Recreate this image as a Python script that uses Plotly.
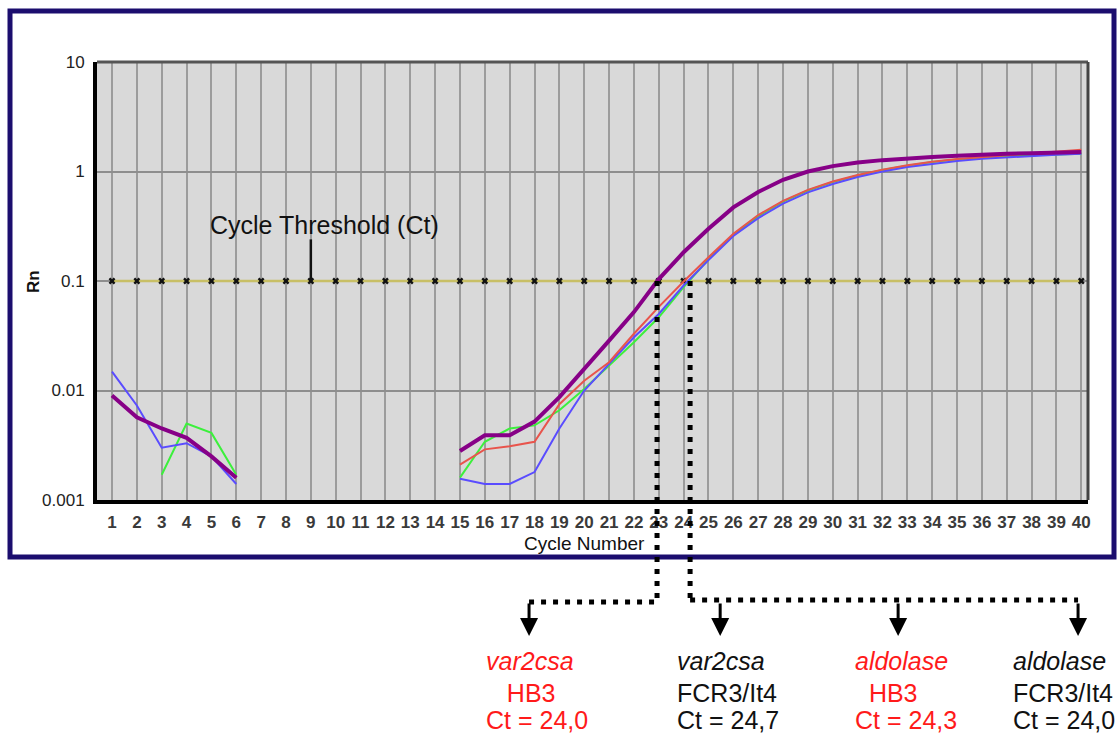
import math
import plotly.graph_objects as go

# ---------------- data ----------------
cycles = list(range(1, 41))
N = None

rn_purple = [0.0090, 0.0057, 0.0045, 0.0037, 0.0025, 0.0016, N, N, N, N, N, N, N, N,
             0.0028, 0.0039, 0.0039, 0.0052, 0.0087, 0.016, 0.0285, 0.052, 0.104, 0.183,
             0.30, 0.47, 0.65, 0.84, 1.0, 1.12, 1.21, 1.27, 1.32, 1.36,
             1.39, 1.43, 1.45, 1.47, 1.49, 1.51]
rn_red = [0.0089, 0.0057, 0.0045, 0.0037, 0.0025, 0.0016, N, N, N, N, N, N, N, N,
          0.0021, 0.0029, 0.0031, 0.0034, 0.0075, 0.0123, 0.0181, 0.033, 0.058, 0.099,
          0.165, 0.27, 0.40, 0.54, 0.68, 0.81, 0.93, 1.04, 1.14, 1.23,
          1.30, 1.36, 1.41, 1.46, 1.53, 1.58]
rn_green = [N, N, 0.0017, 0.0050, 0.0041, 0.0017, N, N, N, N, N, N, N, N,
            0.0016, 0.0034, 0.0045, 0.0048, 0.0066, 0.0103, 0.0169, 0.0276, 0.0466, 0.088,
            0.158, 0.265, 0.39, 0.53, 0.67, 0.80, 0.92, 1.03, 1.13, 1.22,
            1.29, 1.34, 1.38, 1.41, 1.43, 1.45]
rn_blue = [0.0149, 0.0073, 0.0030, 0.0033, 0.0025, 0.0014, N, N, N, N, N, N, N, N,
           0.00156, 0.0014, 0.0014, 0.0018, 0.0045, 0.0100, 0.0175, 0.0306, 0.050, 0.091,
           0.155, 0.258, 0.375, 0.51, 0.645, 0.77, 0.89, 1.0, 1.10, 1.18,
           1.25, 1.31, 1.35, 1.39, 1.42, 1.45]

threshold = 0.1
ct_cross_cycles = [22.93, 24.26]          # where the dotted drop lines leave the threshold
arrow_cycles = [17.78, 25.47, 32.63, 39.87]
pointer_cycle = 9
pointer_top = 0.24

y_tickvals = [0.001, 0.01, 0.1, 1, 10]
y_ticktext = ["0.001", "0.01", "0.1", "1", "10"]
x_ticktext = [str(c) for c in cycles]

result_genes = ["var2csa", "var2csa", "aldolase", "aldolase"]
result_strains = ["\u00a0\u00a0\u00a0HB3", "FCR3/It4", "\u00a0\u00a0HB3", "FCR3/It4"]
result_cts = ["Ct = 24,0", "Ct = 24,7", "Ct = 24,3", "Ct = 24,0"]
result_colors = ["#ff1a1a", "#111111", "#ff1a1a", "#111111"]

# ---------------- layout geometry ----------------
OFF = 0                      # page margin removed by the post script below
W, H = 1119, 735
PLOT_LEFT, PLOT_TOP, PLOT_RIGHT, PLOT_BOTTOM = 97, 62, 1088, 500   # window pixels
L = PLOT_LEFT - OFF
T = PLOT_TOP - OFF
R = W - (PLOT_RIGHT - OFF)
B = H - (PLOT_BOTTOM - OFF)
PW, PH = W - L - R, H - T - B
X_RANGE = [0.396, 40.27]
Y_RANGE = [-3, 1]
FONT = "Liberation Sans, Arial, sans-serif"


def pxx(px):
    return (px - PLOT_LEFT) / PW


def pxy(py):
    return (PLOT_BOTTOM - py) / PH


thr_paper = (math.log10(threshold) - Y_RANGE[0]) / (Y_RANGE[1] - Y_RANGE[0])

fig = go.Figure()

# threshold line with small markers
fig.add_trace(go.Scatter(
    x=cycles, y=[threshold] * len(cycles), mode="lines+markers",
    line=dict(color="#c8bf66", width=2.5),
    marker=dict(symbol="x", size=6, color="#111111", line=dict(width=0)),
    hoverinfo="skip", showlegend=False))

for vals, color, width in [(rn_green, "#3cf03c", 2),
                           (rn_blue, "#5a4cff", 2),
                           (rn_red, "#e8544c", 2),
                           (rn_purple, "#870087", 4)]:
    fig.add_trace(go.Scatter(x=cycles, y=vals, mode="lines",
                             line=dict(color=color, width=width),
                             connectgaps=False, hoverinfo="skip", showlegend=False))

shapes = []
# outer navy frame
shapes.append(dict(type="rect", xref="paper", yref="paper",
                   x0=pxx(10), x1=pxx(1114), y0=pxy(557), y1=pxy(11),
                   line=dict(color="#1b0d6e", width=5), layer="below"))
# top & right plot borders
shapes.append(dict(type="line", xref="paper", yref="paper", x0=0, x1=1, y0=1, y1=1,
                   line=dict(color="#555555", width=3)))
shapes.append(dict(type="line", xref="paper", yref="paper", x0=1, x1=1, y0=0, y1=1,
                   line=dict(color="#444444", width=3)))
# pointer for "Cycle Threshold (Ct)"
shapes.append(dict(type="line", xref="x", yref="y", x0=pointer_cycle, x1=pointer_cycle,
                   y0=threshold, y1=pointer_top, line=dict(color="#111111", width=2.5)))

dot = dict(color="#000000", width=5, dash="5px,7px")
row_y = [pxy(602), pxy(600)]
for c, yy in zip(ct_cross_cycles, row_y):
    shapes.append(dict(type="line", xref="x", yref="paper", x0=c, x1=c,
                       y0=thr_paper, y1=yy, line=dot))
shapes.append(dict(type="line", xref="x", yref="paper", x0=arrow_cycles[0],
                   x1=ct_cross_cycles[0], y0=row_y[0], y1=row_y[0], line=dot))
shapes.append(dict(type="line", xref="x", yref="paper", x0=ct_cross_cycles[1],
                   x1=arrow_cycles[-1], y0=row_y[1], y1=row_y[1], line=dot))

annotations = []
annotations.append(dict(text="Cycle Threshold (Ct)", xref="paper", yref="paper",
                        x=pxx(324), y=pxy(225), xanchor="center", yanchor="middle",
                        showarrow=False,
                        font=dict(family=FONT, size=25, color="#111111")))
annotations.append(dict(text="Cycle Number", xref="paper", yref="paper",
                        x=pxx(584), y=pxy(543), xanchor="center", yanchor="middle",
                        showarrow=False,
                        font=dict(family=FONT, size=19, color="#111111")))
annotations.append(dict(text="<b>Rn</b>", xref="paper", yref="paper",
                        x=pxx(33), y=pxy(282), xanchor="center", yanchor="middle",
                        showarrow=False, textangle=-90,
                        font=dict(family=FONT, size=17, color="#111111")))

for c in arrow_cycles:
    annotations.append(dict(text="", xref="x", yref="paper", x=c, y=pxy(636),
                            ax=0, ay=-34, axref="pixel", ayref="pixel",
                            showarrow=True, arrowhead=2, arrowsize=1.2,
                            arrowwidth=3, arrowcolor="#000000"))

label_left = [484, 675, 853, 1011]
row_centers = [661, 693, 720]
for xl, g, s, ct, col in zip(label_left, result_genes, result_strains, result_cts, result_colors):
    for txt, yc in zip([f"<i>{g}</i>", s, ct], row_centers):
        annotations.append(dict(text=txt, xref="paper", yref="paper",
                                x=pxx(xl), y=pxy(yc), xanchor="left", yanchor="middle",
                                align="left", showarrow=False,
                                font=dict(family=FONT, size=25, color=col)))

fig.update_layout(
    width=W, height=H,
    margin=dict(l=L, r=R, t=T, b=B, autoexpand=False),
    paper_bgcolor="white", plot_bgcolor="#d9d9d9",
    showlegend=False,
    shapes=shapes, annotations=annotations,
    xaxis=dict(range=X_RANGE, tickmode="array", tickvals=cycles, ticktext=x_ticktext,
               tickangle=0, showgrid=True, gridcolor="#9c9c9c", gridwidth=2,
               showline=True, linecolor="#000000", linewidth=4, zeroline=False,
               ticks="", ticklabelstandoff=4,
               tickfont=dict(family=FONT, size=17, color="#3a3a3a", weight="bold")),
    yaxis=dict(type="log", range=Y_RANGE, tickmode="array", tickvals=y_tickvals,
               ticktext=y_ticktext, showgrid=True, gridcolor="#8e8e8e", gridwidth=2,
               showline=True, linecolor="#000000", linewidth=4, zeroline=False,
               ticks="", ticklabelstandoff=5,
               tickfont=dict(family=FONT, size=17, color="#222222")),
)

fig.write_html("out.html",
               config={"displayModeBar": False},
               post_script="document.body.style.margin='0px';"
                           "document.body.style.overflow='hidden';")
